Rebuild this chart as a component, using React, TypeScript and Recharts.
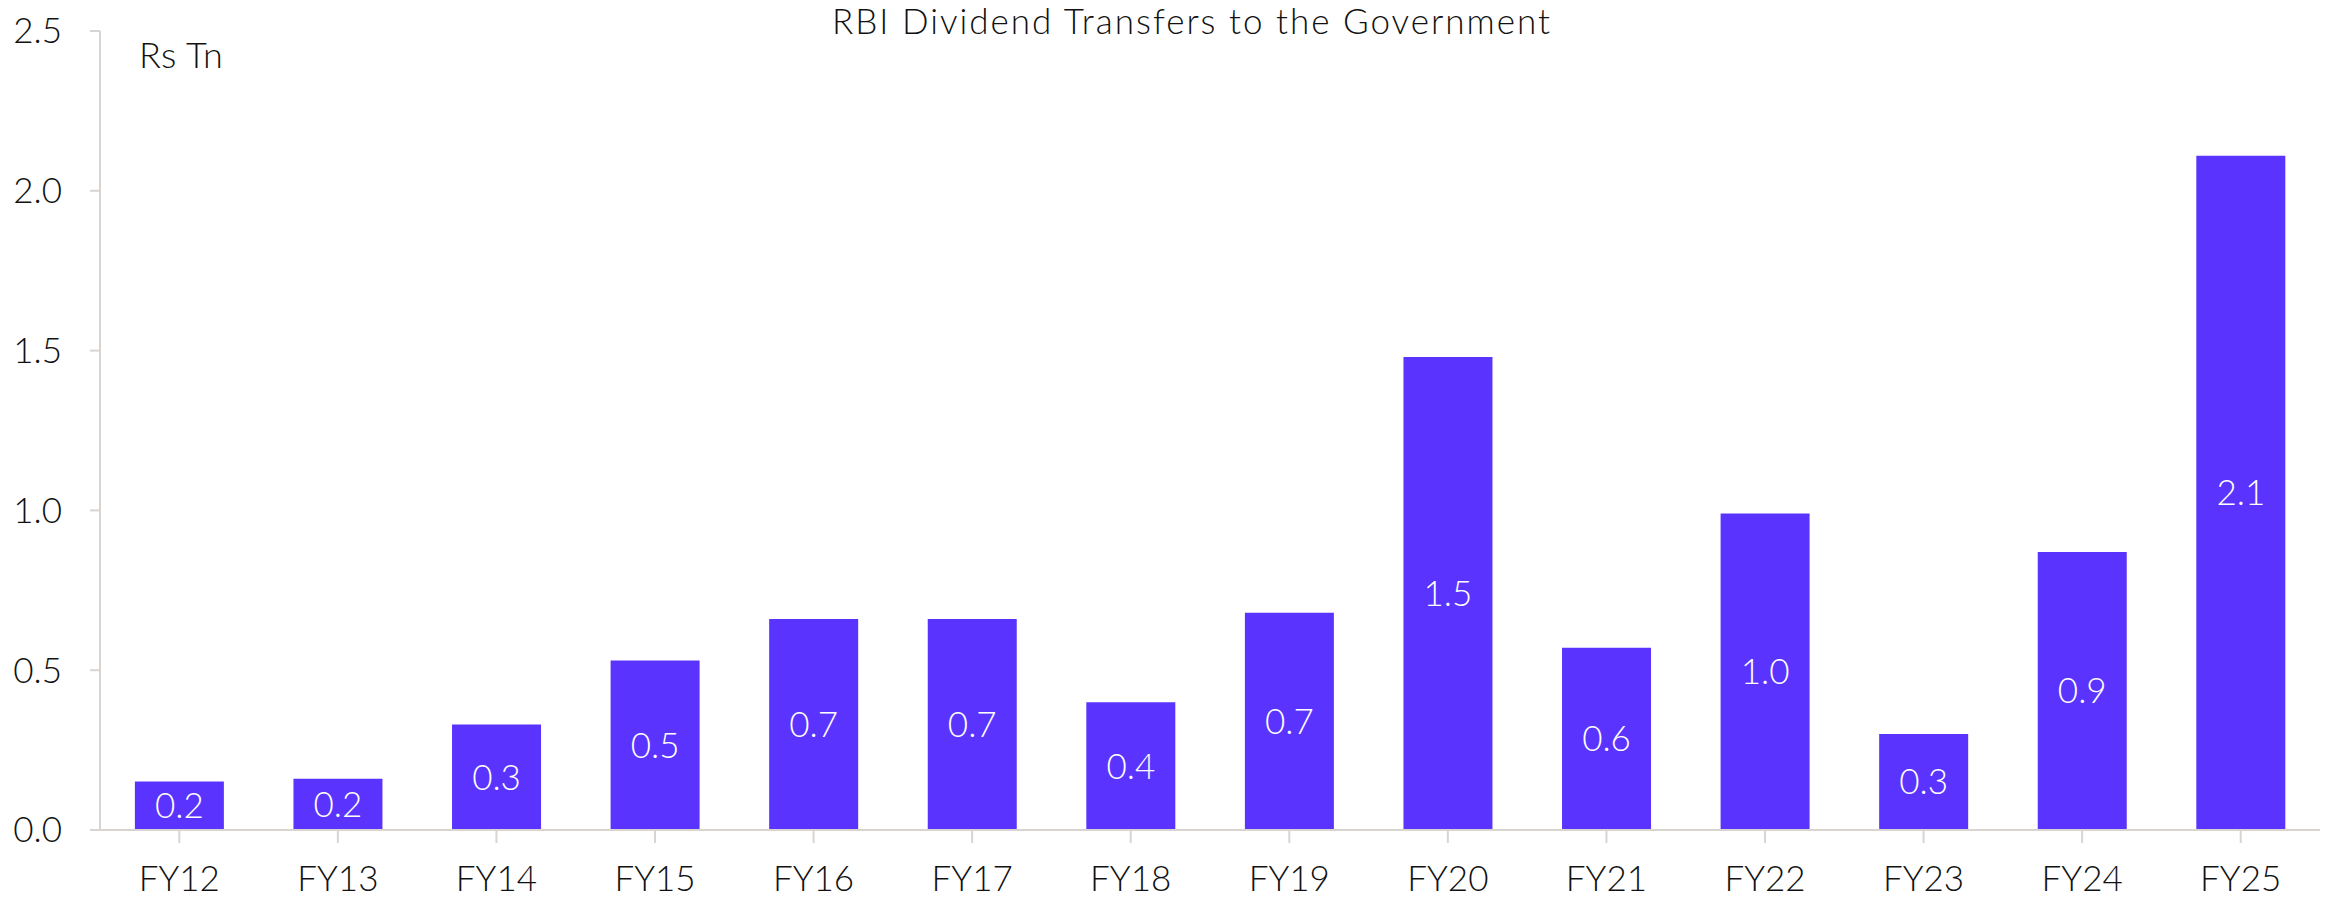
import { BarChart, Bar, XAxis, YAxis, LabelList } from 'recharts';

/* ── Palette ─────────────────────────────────────────────────────────────── */

const BAR   = '#5B33FF';
const AXIS  = '#D9D4D0';
const TEXT  = '#111111';
const FONT  = "Lato, 'Open Sans', sans-serif";

/* ── Data ────────────────────────────────────────────────────────────────── */

const years  = ['FY12', 'FY13', 'FY14', 'FY15', 'FY16', 'FY17', 'FY18', 'FY19', 'FY20', 'FY21', 'FY22', 'FY23', 'FY24', 'FY25'];
const values = [0.152, 0.16, 0.33, 0.53, 0.66, 0.66, 0.40, 0.68, 1.48, 0.57, 0.99, 0.30, 0.87, 2.11];
const yTicks = [0, 0.5, 1.0, 1.5, 2.0, 2.5];

const data = years.map((name, i) => ({ name, value: values[i] }));

/* ── Page ─────────────────────────────────────────────────────────────────── */

export default function App() {
  return (
    <div style={{ position: 'absolute', left: 0, top: 0, width: 2335, height: 900, background: '#fff', fontFamily: FONT }}>
      {/* Title */}
      <div
        style={{
          position: 'absolute', left: 832, top: 0, whiteSpace: 'nowrap', letterSpacing: '2px',
          fontSize: 35, fontWeight: 300, color: TEXT, lineHeight: '40px',
        }}
      >
        RBI Dividend Transfers to the Government
      </div>

      {/* Unit label */}
      <div style={{ position: 'absolute', left: 139, top: 32, fontSize: 36, color: TEXT, fontWeight: 300, lineHeight: '44px', letterSpacing: '0.5px' }}>
        Rs Tn
      </div>

      <BarChart
        width={2335}
        height={900}
        data={data}
        barCategoryGap="22%"
        margin={{ top: 31, right: 15, bottom: 0, left: 0 }}
      >
        <XAxis
          dataKey="name"
          height={70}
          tickSize={13}
          tickMargin={23}
          axisLine={{ stroke: AXIS, strokeWidth: 2 }}
          tickLine={{ stroke: AXIS, strokeWidth: 2 }}
          tick={{ fill: TEXT, fontSize: 35, fontWeight: 300, fontFamily: FONT }}
          interval={0}
        />
        <YAxis
          width={100}
          domain={[0, 2.5]}
          ticks={yTicks}
          tickSize={10}
          tickMargin={28}
          axisLine={{ stroke: AXIS, strokeWidth: 2 }}
          tickLine={{ stroke: AXIS, strokeWidth: 2 }}
          tick={{ fill: TEXT, fontSize: 35, fontWeight: 300, fontFamily: FONT }}
          tickFormatter={(v: number) => v.toFixed(1)}
        />
        <Bar dataKey="value" fill={BAR} isAnimationActive={false}>
          <LabelList
            dataKey="value"
            position="center"
            fill="#ffffff"
            fontSize={35}
            fontWeight={300}
            fontFamily={FONT}
            formatter={(v: number) => v.toFixed(1)}
          />
        </Bar>
      </BarChart>
    </div>
  );
}
